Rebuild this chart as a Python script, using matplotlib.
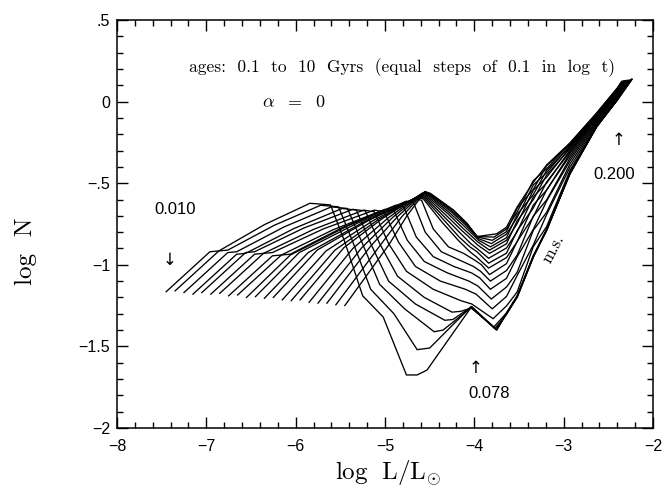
"""
Luminosity functions log N vs log L for 21 ages (0.1 to 10 Gyr), alpha = 0
"""
import numpy as np
import matplotlib
matplotlib.use('Agg')
import matplotlib.pyplot as plt
from matplotlib.ticker import MultipleLocator, FixedLocator

plt.rcParams['mathtext.fontset'] = 'cm'

nan = np.nan

# one entry per age, index 0 = 10 Gyr (oldest) ... index 20 = 0.1 Gyr
# faint end (0.010 Msun) and steep brown-dwarf rise
x_start = [-7.45, -7.35, -7.25, -7.15, -7.05, -6.95, -6.85, -6.75, -6.65, -6.55, -6.45,
           -6.35, -6.25, -6.15, -6.05, -5.95, -5.85, -5.75, -5.65, -5.55, -5.45]
y_start = [-1.165, -1.16, -1.17, -1.18, -1.17, -1.18, -1.175, -1.19, -1.185, -1.20, -1.195,
           -1.205, -1.20, -1.215, -1.22, -1.215, -1.23, -1.235, -1.235, -1.245, -1.25]
x_knee = [-6.96, -6.86, -6.76, -6.66, -6.56, -6.46, -6.36, -6.26, -6.16, -6.06, -5.96,
          -5.86, -5.76, -5.66, -5.56, -5.46, -5.36, -5.26, -5.16, -5.06, -4.96]
y_knee = [-0.92, -0.915, -0.925, -0.935, -0.925, -0.935, -0.93, -0.945, -0.94, -0.94, -0.925,
          -0.925, -0.91, -0.915, -0.91, -0.895, -0.90, -0.895, -0.885, -0.885, -0.88]
x_knee2 = [-6.86, -6.76, -6.66, -6.56, -6.46, -6.36, -6.26, -6.16, -6.06,
           nan, nan, nan, nan, nan, nan, nan, nan, nan, nan, nan, nan]
y_knee2 = [-0.915, -0.91, -0.92, -0.93, -0.92, -0.93, -0.925, -0.94, -0.935,
           nan, nan, nan, nan, nan, nan, nan, nan, nan, nan, nan, nan]
# plateau and brown-dwarf peak
x_mid = [-6.35, -6.24, -6.13, -6.02, -5.91, -5.80, -5.69, -5.58, -5.47, -5.41, -5.31,
         -5.245, -5.19, -5.135, -5.08, -5.025, -4.97, -4.915, -4.86, -4.81, -4.755]
y_mid = [-0.754, -0.758, -0.768, -0.778, -0.775, -0.783, -0.78, -0.785, -0.77, -0.76, -0.745,
         -0.74, -0.73, -0.73, -0.725, -0.715, -0.715, -0.71, -0.705, -0.704, -0.70]
x_peak = [-5.84, -5.72, -5.60, -5.48, -5.36, -5.24, -5.12, -5.00, -4.88, -4.76, -4.66,
          -4.63, -4.62, -4.61, -4.60, -4.59, -4.58, -4.57, -4.56, -4.555, -4.55]
y_peak = [-0.623, -0.635, -0.645, -0.655, -0.66, -0.665, -0.665, -0.66, -0.635, -0.61, -0.595,
          -0.585, -0.58, -0.575, -0.57, -0.565, -0.56, -0.558, -0.555, -0.553, -0.551]
x_shoulder = [-5.61, -5.52, -5.42, -5.32, -5.22, -5.12, -5.01, -4.90, -4.79, -4.68, -4.59,
              -4.57, -4.56, -4.55, -4.54, -4.53, -4.52, -4.51, -4.50, -4.495, -4.49]
y_shoulder = [-0.633, -0.645, -0.655, -0.665, -0.67, -0.675, -0.675, -0.67, -0.645, -0.62, -0.605,
              -0.597, -0.592, -0.587, -0.582, -0.577, -0.572, -0.57, -0.567, -0.565, -0.563]
# fall into the stellar / substellar gap
x_arc1 = [-5.45, -5.36, -5.26, -5.16, -5.06, -4.96, -4.85, -4.75, -4.65, -4.55, -4.46,
          -4.36, -4.35, -4.33, -4.31, -4.29, -4.28, -4.26, -4.25, -4.24, -4.234]
y_arc1 = [-0.86, -0.86, -0.86, -0.87, -0.87, -0.87, -0.86, -0.85, -0.83, -0.80, -0.78,
          -0.74, -0.72, -0.71, -0.70, -0.69, -0.68, -0.675, -0.67, -0.665, -0.664]
x_arc2 = [-5.25, -5.16, -5.06, -4.96, -4.86, -4.76, -4.66, -4.56, -4.46, -4.37, -4.29,
          -4.18, -4.17, -4.15, -4.14, -4.12, -4.11, -4.10, -4.09, -4.085, -4.084]
y_arc2 = [-1.19, -1.15, -1.12, -1.10, -1.07, -1.04, -1.01, -0.98, -0.95, -0.92, -0.89,
          -0.85, -0.83, -0.81, -0.79, -0.78, -0.765, -0.755, -0.75, -0.745, -0.745]
x_arc3 = [-5.02, -4.90, -4.78, -4.66, -4.56, -4.46, -4.38, -4.30, -4.23, -4.17, -4.12,
          -4.05, -4.05, -4.04, nan, nan, nan, nan, nan, nan, nan]
y_arc3 = [-1.32, -1.30, -1.27, -1.24, -1.20, -1.15, -1.10, -1.05, -1.01, -0.97, -0.93,
          -0.92, -0.89, -0.87, nan, nan, nan, nan, nan, nan, nan]
x_trough = [-4.76, -4.64, -4.45, -4.33, -4.25, -4.15, -4.10, -4.06, -4.03, -4.01, -4.00,
            -3.98, -3.97, -3.97, -3.96, -3.96, -3.95, -3.95, -3.96, -3.97, -3.97]
y_trough = [-1.675, -1.52, -1.41, -1.34, -1.29, -1.22, -1.15, -1.10, -1.05, -1.01, -0.97,
            -0.95, -0.92, -0.90, -0.88, -0.86, -0.85, -0.84, -0.83, -0.827, -0.827]
x_trough2 = [-4.64, -4.50, -4.35, -4.24, -4.15, -4.03, -3.98, -3.96, -3.94, -3.93, -3.92,
             nan, nan, nan, nan, nan, nan, nan, nan, nan, nan]
y_trough2 = [-1.675, -1.51, -1.40, -1.335, -1.285, -1.24, -1.18, -1.13, -1.08, -1.04, -1.00,
             nan, nan, nan, nan, nan, nan, nan, nan, nan, nan]
x_trough3 = [-4.53] + [nan] * 20
y_trough3 = [-1.645] + [nan] * 20
# hydrogen burning limit (0.078 Msun) crossing
x_conv = [-4.03, -4.035, -4.03, -4.04, -4.035] + [nan] * 16
y_conv = [-1.256, -1.255, -1.26, -1.26, -1.265] + [nan] * 16
x_dip = [-3.75, -3.75, -3.76, -3.77, -3.78, -3.79, -3.80, -3.81, -3.82, -3.82, -3.83,
         -3.84, -3.84, -3.84, -3.83, -3.83, -3.82, -3.81, -3.80, -3.78, -3.75]
y_dip = [-1.40, -1.40, -1.395, -1.39, -1.38, -1.33, -1.27, -1.21, -1.15, -1.10, -1.06,
         -1.02, -0.99, -0.96, -0.93, -0.91, -0.89, -0.87, -0.85, -0.83, -0.81]

# main-sequence part, read at fixed log L columns
x_ms = [-3.64, -3.52, -3.34, -3.19, -2.93, -2.63, -2.40]
ms_y0 = [-1.30, -1.295, -1.30, -1.305, -1.295, -1.252, -1.194, -1.136, -1.083, -1.035, -0.993,
         -0.956, -0.929, -0.897, -0.871, -0.85, -0.834, -0.812, -0.797, -0.781, -0.77]
ms_y1 = [-1.195, -1.19, -1.20, -1.195, -1.19, -1.166, -1.065, -1.045, -0.95, -0.94, -0.856,
         -0.858, -0.79, -0.797, -0.73, -0.747, -0.691, -0.709, -0.652, -0.676, -0.645]
ms_y2 = [-0.95, -0.945, -0.955, -0.95, -0.945, -0.889, -0.879, -0.789, -0.783, -0.702, -0.706,
         -0.634, -0.652, -0.584, -0.601, -0.543, -0.57, -0.511, -0.538, -0.484, -0.495]
ms_y3 = [-0.786, -0.79, -0.785, -0.786, -0.78, -0.765, -0.691, -0.678, -0.608, -0.602, -0.54,
         -0.542, -0.492, -0.499, -0.449, -0.463, -0.421, -0.435, -0.393, -0.411, -0.388]
ms_y4 = [-0.44, -0.44, -0.445, -0.44, -0.435, -0.423, -0.403, -0.382, -0.363, -0.347, -0.332,
         -0.318, -0.309, -0.298, -0.289, -0.281, -0.275, -0.268, -0.262, -0.257, -0.253]
ms_y5 = [-0.153, -0.153, -0.155, -0.15, -0.153, -0.145, -0.136, -0.127, -0.119, -0.111, -0.104,
         -0.098, -0.094, -0.089, -0.085, -0.082, -0.079, -0.076, -0.073, -0.071, -0.069]
ms_y6 = [0.01, 0.01, 0.012, 0.008, 0.01, 0.017, 0.025, 0.033, 0.04, 0.047, 0.052,
         0.057, 0.061, 0.065, 0.069, 0.072, 0.074, 0.077, 0.079, 0.082, 0.083]
# bright end (0.200 Msun)
x_end = [-2.235, -2.24, -2.235, -2.245, -2.24, -2.25, -2.26, -2.27, -2.28, -2.29, -2.30,
         -2.31, -2.31, -2.32, -2.32, -2.33, -2.33, -2.34, -2.34, -2.35, -2.35]
y_end = [0.137, 0.135, 0.137, 0.134, 0.136, 0.133, 0.132, 0.131, 0.13, 0.13, 0.129,
         0.128, 0.127, 0.127, 0.126, 0.125, 0.125, 0.124, 0.124, 0.123, 0.123]

x_ticks = [-8, -7, -6, -5, -4, -3, -2]
x_ticklabels = ['\u22128', '\u22127', '\u22126', '\u22125', '\u22124', '\u22123', '\u22122']
y_ticks = [-2, -1.5, -1, -0.5, 0, 0.5]
y_ticklabels = ['\u22122', '\u22121.5', '\u22121', '\u2212.5', '0', '.5']

fig = plt.figure(figsize=(6.66, 4.88), dpi=100)
ax = fig.add_axes([117 / 666, 1 - 428 / 488, 536 / 666, 408 / 488])

head_x = [x_start, x_knee, x_knee2, x_mid, x_peak, x_shoulder, x_arc1, x_arc2, x_arc3,
          x_trough, x_trough2, x_trough3, x_conv, x_dip]
head_y = [y_start, y_knee, y_knee2, y_mid, y_peak, y_shoulder, y_arc1, y_arc2, y_arc3,
          y_trough, y_trough2, y_trough3, y_conv, y_dip]
ms_cols = [ms_y0, ms_y1, ms_y2, ms_y3, ms_y4, ms_y5, ms_y6]

for k in range(len(x_start)):
    xx = [a[k] for a in head_x] + x_ms + [x_end[k]]
    yy = [a[k] for a in head_y] + [c[k] for c in ms_cols] + [y_end[k]]
    xx = np.array(xx, dtype=float)
    yy = np.array(yy, dtype=float)
    keep = ~np.isnan(xx)
    ax.plot(xx[keep], yy[keep], color='black', lw=0.95, solid_joinstyle='miter')

ax.set_xlim(-8, -2)
ax.set_ylim(-2, 0.5)
ax.xaxis.set_major_locator(FixedLocator(x_ticks))
ax.xaxis.set_minor_locator(MultipleLocator(0.2))
ax.yaxis.set_major_locator(FixedLocator(y_ticks))
ax.yaxis.set_minor_locator(MultipleLocator(0.1))
ax.set_xticklabels(x_ticklabels, fontfamily='Liberation Sans', fontsize=11.5)
ax.set_yticklabels(y_ticklabels, fontfamily='Liberation Sans', fontsize=11.5)
ax.tick_params(which='both', direction='in', top=True, right=True, width=1)
ax.tick_params(which='major', length=8)
ax.tick_params(which='minor', length=4)
ax.tick_params(axis='x', pad=8)
ax.tick_params(axis='y', pad=5)
for s in ax.spines.values():
    s.set_linewidth(1.1)

# annotations
sans = dict(fontfamily='Liberation Sans', fontsize=12, ha='center', va='center')
arrow = dict(fontfamily='DejaVu Sans', fontsize=12, ha='center', va='center')
ax.text(-7.35, -0.66, '0.010', **sans)
ax.text(-7.41, -0.97, '\u2193', **arrow)
ax.text(-3.84, -1.79, '0.078', **sans)
ax.text(-3.99, -1.634, '\u2191', **arrow)
ax.text(-2.43, -0.444, '0.200', **sans)
ax.text(-2.386, -0.235, '\u2191', **arrow)
ax.text(-3.11, -0.90, 'm.s.', fontfamily='cmr10', fontsize=12, rotation=62,
        ha='center', va='center')
ax.text(-2.42, 0.206, 'ages:  0.1  to  10  Gyrs  (equal  steps  of  0.1  in  log  t)',
        fontfamily='cmr10', fontsize=12.5, ha='right', va='center')
ax.text(-6.02, 0.0, r'$\alpha\ \ =\ \ 0$', fontsize=13, ha='center', va='center')

fig.text(0.039, 0.486, 'log  N', fontfamily='cmr10', fontsize=18, rotation=90,
         ha='center', va='center')
fig.text(0.582, 0.03, r'$\mathrm{log\ \ L/L_{\odot}}$', fontsize=18,
         ha='center', va='center')

fig.savefig('out.png', dpi=100)
